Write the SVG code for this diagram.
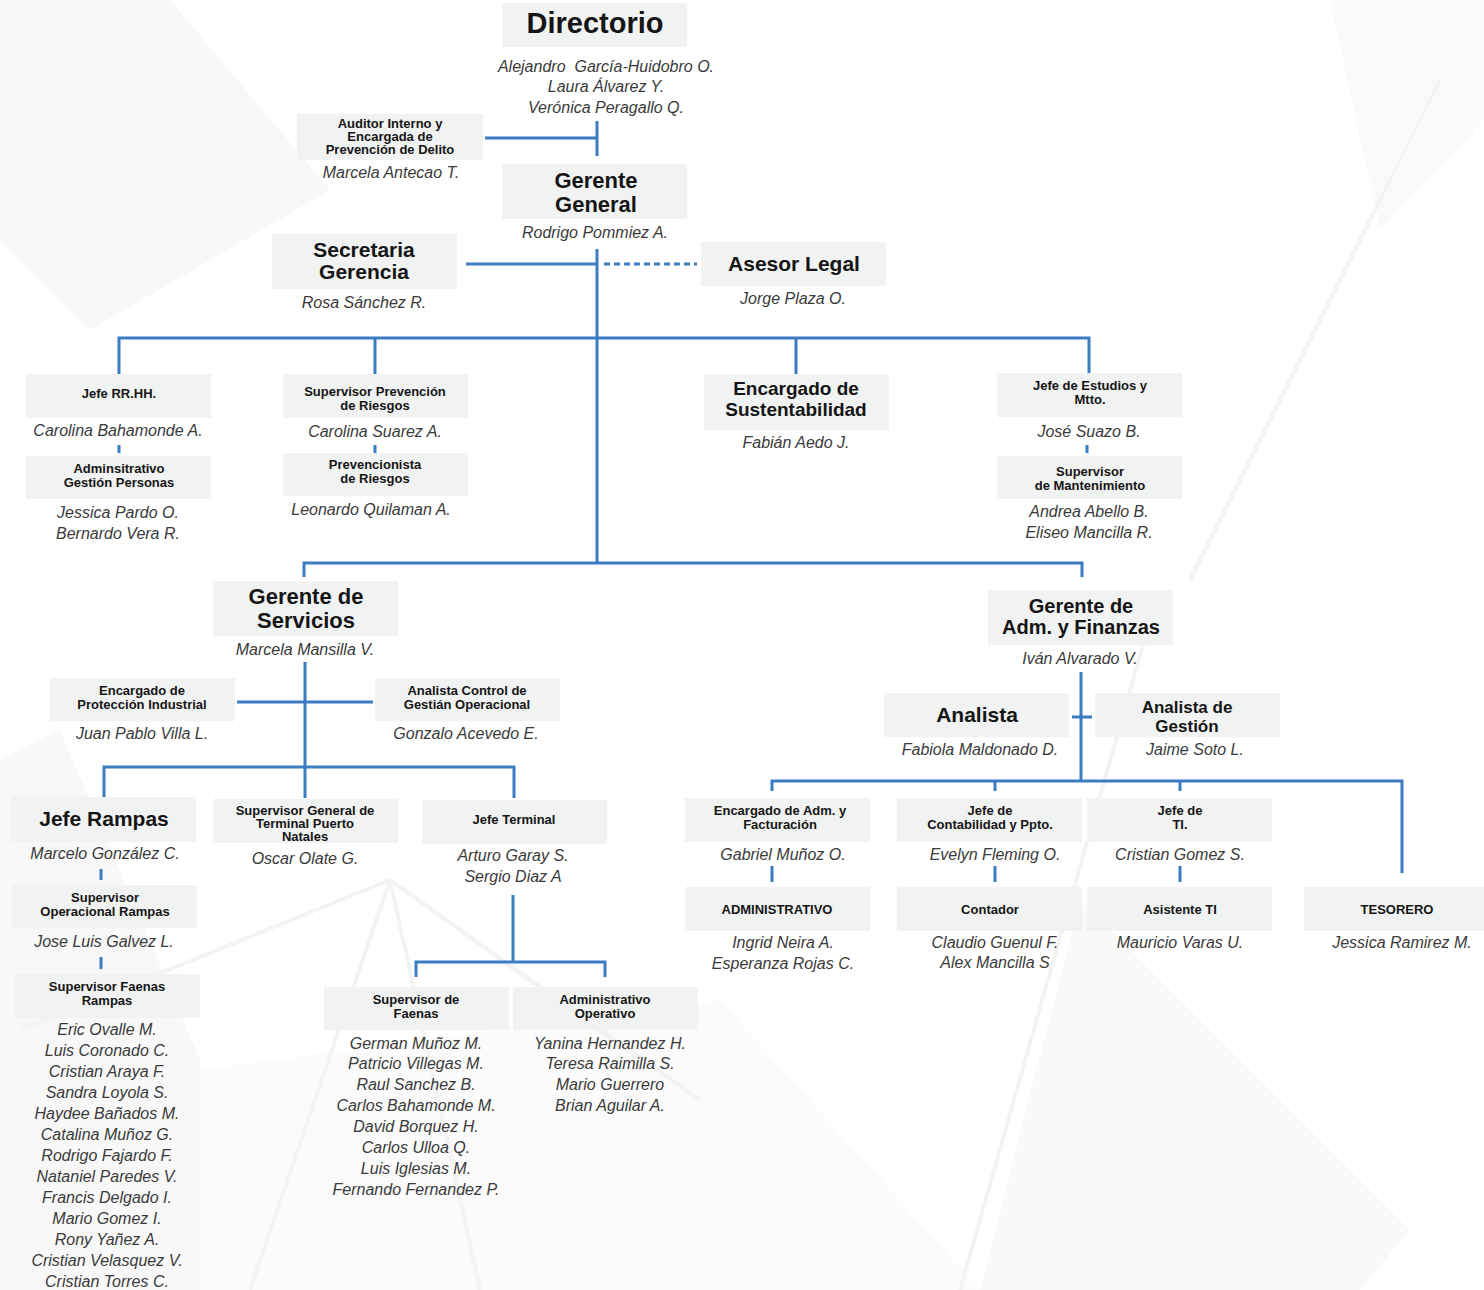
<svg xmlns="http://www.w3.org/2000/svg" width="1484" height="1290" viewBox="0 0 1484 1290">
<style>
.box{fill:#f1f2f2}
.t{font-family:"Liberation Sans",Arial,sans-serif;font-weight:bold;fill:#151515;text-anchor:middle}
.s{font-size:13px}
.n{font-family:"Liberation Sans",Arial,sans-serif;font-style:italic;fill:#3a3a3a;font-size:16px;text-anchor:middle}
.c{stroke:#3b7cc2;stroke-width:3;fill:none}
.bg{fill:#f8f8f8}
.bl{stroke:#f3f3f3;stroke-width:4;fill:none}
</style>
<rect width="1484" height="1290" fill="#ffffff"/>
<g id="background">
<polygon class="bg" points="0,0 170,0 330,190 90,330 0,240"/>
<polygon class="bg" points="0,760 60,730 200,1060 200,1290 0,1290"/>
<polygon class="bg" points="200,1070 720,1000 980,1290 200,1290" opacity="0.6"/>
<polygon class="bg" points="1080,900 1410,1230 1360,1290 980,1290" opacity="0.8"/>
<polygon class="bg" points="1330,0 1484,0 1484,120 1380,230" opacity="0.7"/>
<path class="bl" d="M390 880 L250 1290 M390 880 L480 1290 M390 880 L20 1030 M390 880 L700 1100 M390 880 L640 1060"/>
<path class="bl" d="M1190 580 L1440 80 M1150 620 L960 1290"/>
</g>
<g id="connectors">
<path class="c" d="M597 121 V156 M485 138 H597"/>
<path class="c" d="M597 249 V563 M466 264 H597"/>
<path class="c" d="M604 264 H697" stroke-dasharray="6 4"/>
<path class="c" d="M119 374 V338 H1089 V374 M375 338 V374 M796 338 V374"/>
<path class="c" d="M119 445 V453 M375 445 V453 M1087 445 V453"/>
<path class="c" d="M304 577 V563 H1082 V577"/>
<path class="c" d="M305 662 V798 M237 702 H373 M104 798 V767 H514 V798"/>
<path class="c" d="M101 869 V880 M101 957 V969"/>
<path class="c" d="M513 895 V962 M416 977 V962 H605 V977"/>
<path class="c" d="M1081 672 V781 M1072 717 H1092 M772 791 V781 H1402 V873 M995 781 V791 M1180 781 V791"/>
<path class="c" d="M772 866 V882 M995 866 V882 M1180 866 V882"/>
</g>
<g id="directorio">
<rect class="box" x="502" y="3" width="185" height="44"/>
<text class="t" x="595" y="33" font-size="29">Directorio</text>
<text class="n" x="606" y="72" xml:space="preserve">Alejandro  García-Huidobro O.</text>
<text class="n" x="606" y="92">Laura Álvarez Y.</text>
<text class="n" x="606" y="113">Verónica Peragallo Q.</text>
</g>
<g id="auditor">
<rect class="box" x="297" y="114" width="186" height="46"/>
<text class="t s" x="390" y="128">Auditor Interno y</text>
<text class="t s" x="390" y="141">Encargada de</text>
<text class="t s" x="390" y="154">Prevención de Delito</text>
<text class="n" x="391" y="178">Marcela Antecao T.</text>
</g>
<g id="gerente-general">
<rect class="box" x="502" y="164" width="185" height="55"/>
<text class="t" x="596" y="188" font-size="22">Gerente</text>
<text class="t" x="596" y="212" font-size="22">General</text>
<text class="n" x="595" y="238">Rodrigo Pommiez A.</text>
</g>
<g id="secretaria">
<rect class="box" x="272" y="234" width="185" height="55"/>
<text class="t" x="364" y="257" font-size="21">Secretaria</text>
<text class="t" x="364" y="279" font-size="21">Gerencia</text>
<text class="n" x="364" y="308">Rosa Sánchez R.</text>
</g>
<g id="asesor-legal">
<rect class="box" x="701" y="242" width="185" height="44"/>
<text class="t" x="794" y="271" font-size="21">Asesor Legal</text>
<text class="n" x="793" y="304">Jorge Plaza O.</text>
</g>
<g id="jefe-rrhh">
<rect class="box" x="26" y="374" width="185" height="44"/>
<text class="t s" x="119" y="398">Jefe RR.HH.</text>
<text class="n" x="118" y="436">Carolina Bahamonde A.</text>
</g>
<g id="adm-gestion-personas">
<rect class="box" x="26" y="456" width="185" height="43"/>
<text class="t s" x="119" y="473">Adminsitrativo</text>
<text class="t s" x="119" y="487">Gestión Personas</text>
<text class="n" x="118" y="518">Jessica Pardo O.</text>
<text class="n" x="118" y="539">Bernardo Vera R.</text>
</g>
<g id="supervisor-prevencion">
<rect class="box" x="283" y="374" width="185" height="44"/>
<text class="t s" x="375" y="396">Supervisor Prevención</text>
<text class="t s" x="375" y="410">de Riesgos</text>
<text class="n" x="375" y="437">Carolina Suarez A.</text>
</g>
<g id="prevencionista">
<rect class="box" x="283" y="453" width="185" height="43"/>
<text class="t s" x="375" y="469">Prevencionista</text>
<text class="t s" x="375" y="483">de Riesgos</text>
<text class="n" x="371" y="515">Leonardo Quilaman A.</text>
</g>
<g id="sustentabilidad">
<rect class="box" x="704" y="374" width="185" height="56"/>
<text class="t" x="796" y="395" font-size="19">Encargado de</text>
<text class="t" x="796" y="416" font-size="19">Sustentabilidad</text>
<text class="n" x="796" y="448">Fabián Aedo J.</text>
</g>
<g id="jefe-estudios">
<rect class="box" x="997" y="373" width="185" height="44"/>
<text class="t s" x="1090" y="390">Jefe de Estudios y</text>
<text class="t s" x="1090" y="404">Mtto.</text>
<text class="n" x="1089" y="437">José Suazo B.</text>
</g>
<g id="supervisor-mantenimiento">
<rect class="box" x="997" y="456" width="185" height="43"/>
<text class="t s" x="1090" y="476">Supervisor</text>
<text class="t s" x="1090" y="490">de Mantenimiento</text>
<text class="n" x="1089" y="517">Andrea Abello B.</text>
<text class="n" x="1089" y="538">Eliseo Mancilla R.</text>
</g>
<g id="gerente-servicios">
<rect class="box" x="213" y="581" width="185" height="55"/>
<text class="t" x="306" y="604" font-size="22">Gerente de</text>
<text class="t" x="306" y="628" font-size="22">Servicios</text>
<text class="n" x="305" y="655">Marcela Mansilla V.</text>
</g>
<g id="proteccion-industrial">
<rect class="box" x="50" y="678" width="185" height="43"/>
<text class="t s" x="142" y="695">Encargado de</text>
<text class="t s" x="142" y="709">Protección Industrial</text>
<text class="n" x="142" y="739">Juan Pablo Villa L.</text>
</g>
<g id="analista-control">
<rect class="box" x="375" y="678" width="185" height="43"/>
<text class="t s" x="467" y="695">Analista Control de</text>
<text class="t s" x="467" y="709">Gestián Operacional</text>
<text class="n" x="466" y="739">Gonzalo Acevedo E.</text>
</g>
<g id="jefe-rampas">
<rect class="box" x="11" y="797" width="185" height="45"/>
<text class="t" x="104" y="826" font-size="21">Jefe Rampas</text>
<text class="n" x="105" y="859">Marcelo González C.</text>
</g>
<g id="supervisor-operacional-rampas">
<rect class="box" x="12" y="885" width="185" height="43"/>
<text class="t s" x="105" y="902">Supervisor</text>
<text class="t s" x="105" y="916">Operacional Rampas</text>
<text class="n" x="104" y="947">Jose Luis Galvez L.</text>
</g>
<g id="supervisor-faenas-rampas">
<rect class="box" x="15" y="974" width="185" height="44"/>
<text class="t s" x="107" y="991">Supervisor Faenas</text>
<text class="t s" x="107" y="1005">Rampas</text>
<text class="n" x="107" y="1035">Eric Ovalle M.</text>
<text class="n" x="107" y="1056">Luis Coronado C.</text>
<text class="n" x="107" y="1077">Cristian Araya F.</text>
<text class="n" x="107" y="1098">Sandra Loyola S.</text>
<text class="n" x="107" y="1119">Haydee Bañados M.</text>
<text class="n" x="107" y="1140">Catalina Muñoz G.</text>
<text class="n" x="107" y="1161">Rodrigo Fajardo F.</text>
<text class="n" x="107" y="1182">Nataniel Paredes V.</text>
<text class="n" x="107" y="1203">Francis Delgado I.</text>
<text class="n" x="107" y="1224">Mario Gomez I.</text>
<text class="n" x="107" y="1245">Rony Yañez A.</text>
<text class="n" x="107" y="1266">Cristian Velasquez V.</text>
<text class="n" x="107" y="1287">Cristian Torres C.</text>
</g>
<g id="supervisor-general-terminal">
<rect class="box" x="213" y="799" width="185" height="44"/>
<text class="t s" x="305" y="815">Supervisor General de</text>
<text class="t s" x="305" y="828">Terminal Puerto</text>
<text class="t s" x="305" y="841">Natales</text>
<text class="n" x="305" y="864">Oscar Olate G.</text>
</g>
<g id="jefe-terminal">
<rect class="box" x="422" y="800" width="185" height="44"/>
<text class="t s" x="514" y="824">Jefe Terminal</text>
<text class="n" x="513" y="861">Arturo Garay S.</text>
<text class="n" x="513" y="882">Sergio Diaz A</text>
</g>
<g id="supervisor-faenas">
<rect class="box" x="324" y="987" width="185" height="43"/>
<text class="t s" x="416" y="1004">Supervisor de</text>
<text class="t s" x="416" y="1018">Faenas</text>
<text class="n" x="416" y="1049">German Muñoz M.</text>
<text class="n" x="416" y="1069">Patricio Villegas M.</text>
<text class="n" x="416" y="1090">Raul Sanchez B.</text>
<text class="n" x="416" y="1111">Carlos Bahamonde M.</text>
<text class="n" x="416" y="1132">David Borquez H.</text>
<text class="n" x="416" y="1153">Carlos Ulloa Q.</text>
<text class="n" x="416" y="1174">Luis Iglesias M.</text>
<text class="n" x="416" y="1195">Fernando Fernandez P.</text>
</g>
<g id="administrativo-operativo">
<rect class="box" x="513" y="987" width="185" height="43"/>
<text class="t s" x="605" y="1004">Administrativo</text>
<text class="t s" x="605" y="1018">Operativo</text>
<text class="n" x="610" y="1049">Yanina Hernandez H.</text>
<text class="n" x="610" y="1069">Teresa Raimilla S.</text>
<text class="n" x="610" y="1090">Mario Guerrero</text>
<text class="n" x="610" y="1111">Brian Aguilar A.</text>
</g>
<g id="gerente-adm-finanzas">
<rect class="box" x="988" y="590" width="185" height="55"/>
<text class="t" x="1081" y="613" font-size="20">Gerente de</text>
<text class="t" x="1081" y="634" font-size="20">Adm. y Finanzas</text>
<text class="n" x="1080" y="664">Iván Alvarado V.</text>
</g>
<g id="analista">
<rect class="box" x="884" y="693" width="185" height="44"/>
<text class="t" x="977" y="722" font-size="21">Analista</text>
<text class="n" x="980" y="755">Fabiola Maldonado D.</text>
</g>
<g id="analista-gestion">
<rect class="box" x="1095" y="693" width="185" height="44"/>
<text class="t" x="1187" y="713" font-size="17">Analista de</text>
<text class="t" x="1187" y="732" font-size="17">Gestión</text>
<text class="n" x="1195" y="755">Jaime Soto L.</text>
</g>
<g id="encargado-adm-facturacion">
<rect class="box" x="685" y="798" width="185" height="44"/>
<text class="t s" x="780" y="815">Encargado de Adm. y</text>
<text class="t s" x="780" y="829">Facturación</text>
<text class="n" x="783" y="860">Gabriel Muñoz O.</text>
</g>
<g id="administrativo">
<rect class="box" x="685" y="887" width="185" height="44"/>
<text class="t s" x="777" y="914">ADMINISTRATIVO</text>
<text class="n" x="783" y="948">Ingrid Neira A.</text>
<text class="n" x="783" y="969">Esperanza Rojas C.</text>
</g>
<g id="jefe-contabilidad">
<rect class="box" x="897" y="798" width="185" height="44"/>
<text class="t s" x="990" y="815">Jefe de</text>
<text class="t s" x="990" y="829">Contabilidad y Ppto.</text>
<text class="n" x="995" y="860">Evelyn Fleming O.</text>
</g>
<g id="contador">
<rect class="box" x="897" y="887" width="185" height="44"/>
<text class="t s" x="990" y="914">Contador</text>
<text class="n" x="995" y="948">Claudio Guenul F.</text>
<text class="n" x="995" y="968">Alex Mancilla S</text>
</g>
<g id="jefe-ti">
<rect class="box" x="1087" y="798" width="185" height="44"/>
<text class="t s" x="1180" y="815">Jefe de</text>
<text class="t s" x="1180" y="829">TI.</text>
<text class="n" x="1180" y="860">Cristian Gomez S.</text>
</g>
<g id="asistente-ti">
<rect class="box" x="1087" y="887" width="185" height="44"/>
<text class="t s" x="1180" y="914">Asistente TI</text>
<text class="n" x="1180" y="948">Mauricio Varas U.</text>
</g>
<g id="tesorero">
<rect class="box" x="1304" y="887" width="185" height="44"/>
<text class="t s" x="1397" y="914">TESORERO</text>
<text class="n" x="1402" y="948">Jessica Ramirez M.</text>
</g>
</svg>
